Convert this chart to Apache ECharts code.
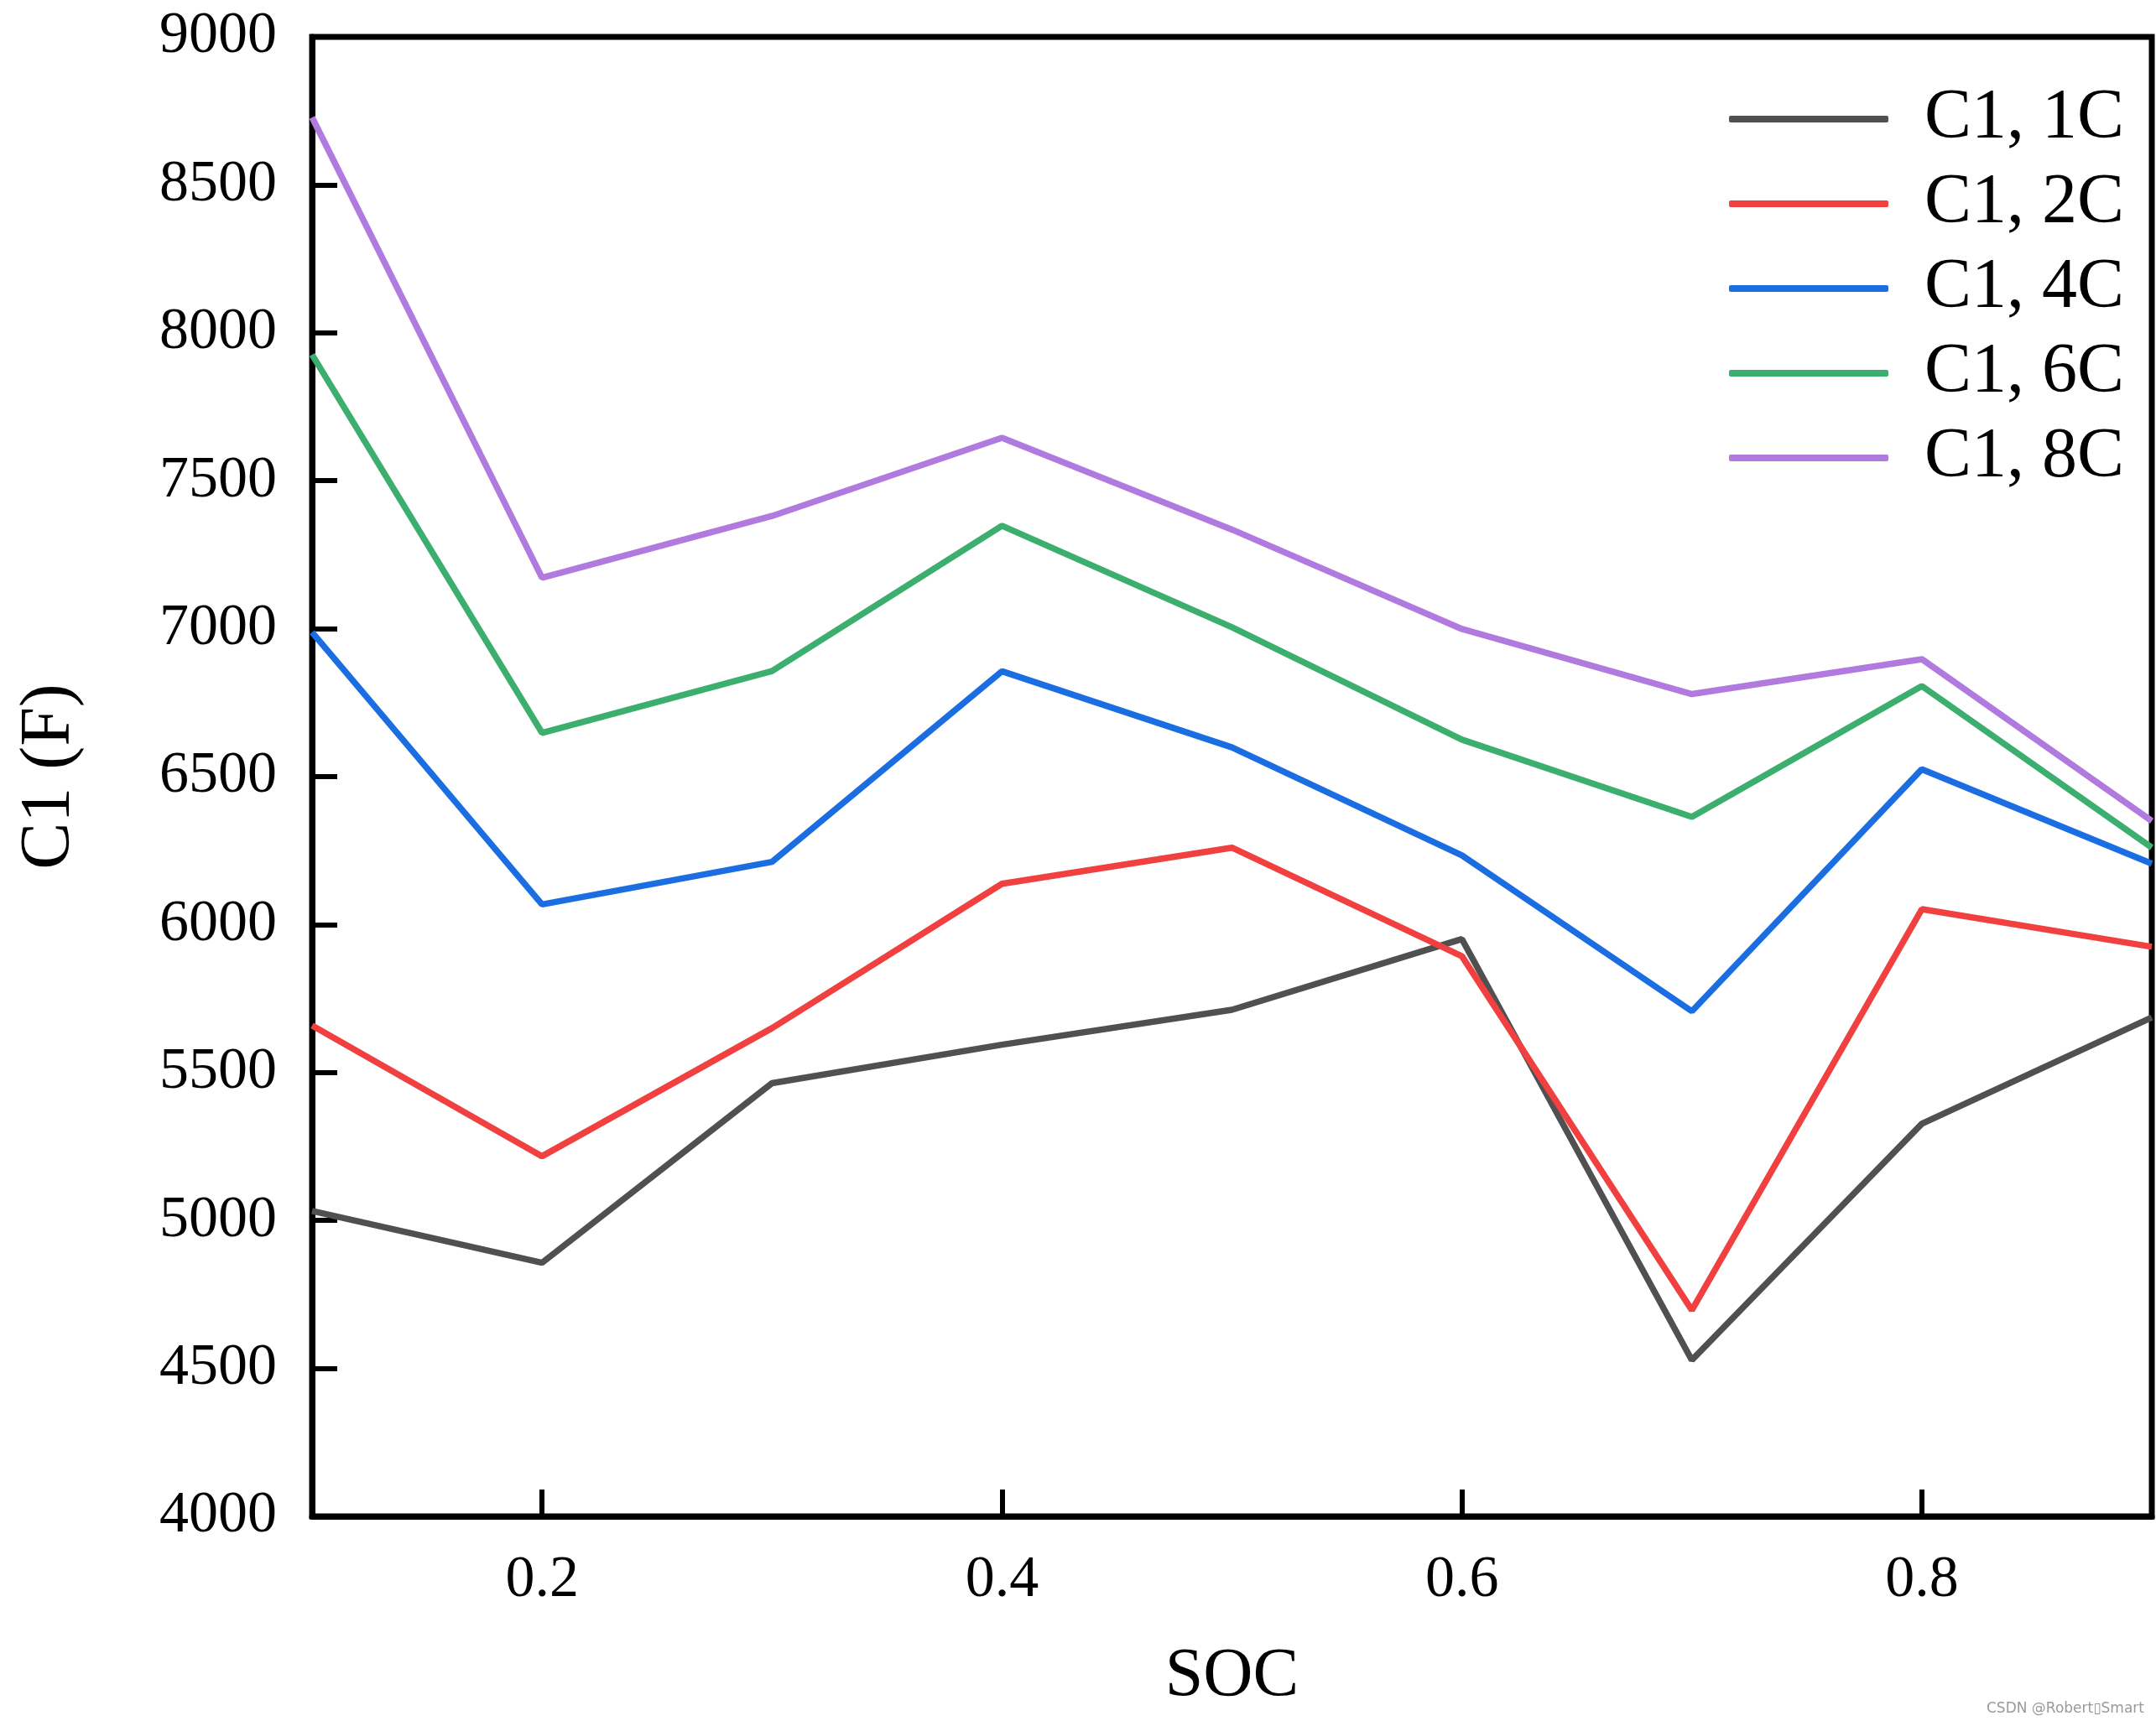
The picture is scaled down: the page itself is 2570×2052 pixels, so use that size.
<!DOCTYPE html>
<html>
<head>
<meta charset="utf-8">
<script src="https://cdn.jsdelivr.net/npm/echarts@6/dist/echarts.min.js"></script>
<style>
html,body{margin:0;padding:0;background:#fff;}
#chart{width:2570px;height:2052px;}
</style>
</head>
<body>
<div id="chart"></div>
<script>
const soc = [0.1, 0.2, 0.3, 0.4, 0.5, 0.6, 0.7, 0.8, 0.9];
const c1_1C = [5032, 4857, 5464, 5594, 5712, 5951, 4528, 5327, 5686];
const c1_2C = [5659, 5217, 5650, 6138, 6260, 5893, 4697, 6052, 5925];
const c1_4C = [6988, 6068, 6212, 6856, 6599, 6234, 5707, 6525, 6206];
const c1_6C = [7926, 6648, 6857, 7348, 7005, 6625, 6364, 6806, 6260];
const c1_8C = [8728, 7172, 7381, 7645, 7335, 6999, 6779, 6897, 6350];
const seriesNames = ['C1, 1C', 'C1, 2C', 'C1, 4C', 'C1, 6C', 'C1, 8C'];
const seriesColors = ['#505050', '#F04040', '#1A6EE1', '#3CAE6E', '#B07ADE'];
const xTicks = [0.2, 0.4, 0.6, 0.8];

const allData = [c1_1C, c1_2C, c1_4C, c1_6C, c1_8C];
const FONT = '"Liberation Serif", "DejaVu Serif", serif';

const chart = echarts.init(document.getElementById('chart'), null, {renderer: 'canvas'});
chart.setOption({
  backgroundColor: '#ffffff',
  animation: false,
  grid: {
    left: 372, right: 5, top: 44, bottom: 244,
    show: true, borderColor: '#000', borderWidth: 7, backgroundColor: '#fff'
  },
  legend: {
    orient: 'vertical',
    left: 2056, top: 95,
    icon: 'roundRect',
    itemWidth: 190, itemHeight: 8, itemGap: 17,
    data: seriesNames,
    textStyle: {fontFamily: FONT, fontSize: 84, color: '#000', padding: [0, 0, 0, 38]}
  },
  xAxis: {
    type: 'value',
    min: 0.1, max: 0.9,
    name: 'SOC', nameLocation: 'middle', nameGap: 150,
    nameTextStyle: {fontFamily: FONT, fontSize: 82, color: '#000'},
    axisLine: {show: true, lineStyle: {color: '#000', width: 7}},
    axisTick: {show: true, inside: true, length: 32, customValues: xTicks, lineStyle: {color: '#000', width: 6}},
    axisLabel: {customValues: xTicks, fontFamily: FONT, fontSize: 70, color: '#000', margin: 42,
      formatter: v => v.toFixed(1)},
    splitLine: {show: false}
  },
  yAxis: {
    type: 'value',
    min: 4000, max: 9000, interval: 500,
    name: 'C1 (F)', nameLocation: 'middle', nameGap: 270, nameRotate: 90,
    nameTextStyle: {fontFamily: FONT, fontSize: 84, color: '#000'},
    axisLine: {show: true, lineStyle: {color: '#000', width: 7}},
    axisTick: {show: true, inside: true, length: 30, lineStyle: {color: '#000', width: 6}},
    axisLabel: {fontFamily: FONT, fontSize: 70, color: '#000', margin: 42, formatter: v => String(v)},
    splitLine: {show: false}
  },
  graphic: [{
    type: 'text', right: 14, bottom: 6,
    style: {text: 'CSDN @Robert\u25AFSmart', fontFamily: '"DejaVu Sans", sans-serif', fontSize: 17, fill: '#9a9a9a'}
  }],
  series: allData.map((d, i) => ({
    name: seriesNames[i],
    type: 'line',
    data: soc.map((x, j) => [x, d[j]]),
    symbol: 'none',
    color: seriesColors[i],
    lineStyle: {width: 7.5, color: seriesColors[i]},
    clip: true
  }))
});
</script>
</body>
</html>
